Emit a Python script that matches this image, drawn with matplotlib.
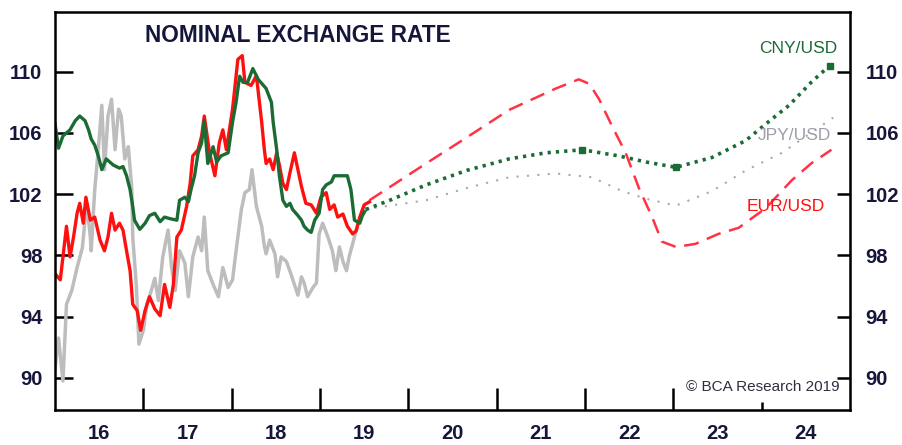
import matplotlib
matplotlib.use("Agg")
import matplotlib.pyplot as plt

plt.rcParams['font.family'] = ['Liberation Sans', 'DejaVu Sans']

# --------------------------------------------------------- data
# history, CNY/USD (green)
cny_years = [2016.00, 2016.04, 2016.09, 2016.17, 2016.23, 2016.28, 2016.34, 2016.38, 2016.41, 2016.45,
             2016.49, 2016.53, 2016.58, 2016.66, 2016.73, 2016.77, 2016.81, 2016.85, 2016.88, 2016.90,
             2016.96, 2017.02, 2017.07, 2017.13, 2017.19, 2017.24, 2017.30, 2017.38, 2017.41, 2017.47,
             2017.51, 2017.54, 2017.58, 2017.62, 2017.66, 2017.69, 2017.73, 2017.79, 2017.83, 2017.88,
             2017.96, 2018.01, 2018.05, 2018.09, 2018.13, 2018.18, 2018.24, 2018.30, 2018.39, 2018.45,
             2018.47, 2018.51, 2018.54, 2018.58, 2018.62, 2018.66, 2018.69, 2018.75, 2018.79, 2018.82,
             2018.86, 2018.90, 2018.94, 2018.99, 2019.03, 2019.07, 2019.13, 2019.16, 2019.24, 2019.31,
             2019.35, 2019.39, 2019.45, 2019.48, 2019.52]
cny_vals = [106.6, 105.0, 105.8, 106.2, 106.8, 107.1, 106.8, 106.2, 105.6, 105.2,
            104.5, 103.6, 104.3, 103.9, 103.7, 103.8, 103.2, 102.3, 101.2, 100.3,
            99.7, 100.1, 100.6, 100.75, 100.2, 100.5, 100.4, 100.3, 101.6, 101.8,
            101.5, 102.3, 103.2, 104.7, 105.35, 106.8, 104.0, 105.1, 104.1, 104.5,
            104.7, 106.7, 108.0, 109.7, 109.3, 109.3, 110.2, 109.5, 108.9, 108.0,
            106.7, 104.9, 103.2, 101.6, 101.2, 101.4, 101.0, 100.6, 100.3, 99.9,
            99.65, 99.5, 100.3, 100.75, 102.3, 102.6, 102.8, 103.2, 103.2, 103.2,
            102.3, 100.3, 100.1, 100.6, 101.0]

# history, EUR/USD (red)
eur_years = [2016.00, 2016.06, 2016.09, 2016.13, 2016.17, 2016.21, 2016.25, 2016.28, 2016.32, 2016.35,
             2016.40, 2016.45, 2016.51, 2016.56, 2016.60, 2016.64, 2016.68, 2016.73, 2016.77, 2016.81,
             2016.85, 2016.88, 2016.93, 2016.97, 2017.02, 2017.07, 2017.13, 2017.19, 2017.24, 2017.30,
             2017.34, 2017.38, 2017.43, 2017.49, 2017.53, 2017.56, 2017.62, 2017.66, 2017.69, 2017.75,
             2017.81, 2017.86, 2017.90, 2017.94, 2018.01, 2018.07, 2018.12, 2018.15, 2018.22, 2018.28,
             2018.34, 2018.37, 2018.39, 2018.43, 2018.47, 2018.51, 2018.54, 2018.58, 2018.62, 2018.66,
             2018.71, 2018.75, 2018.79, 2018.84, 2018.90, 2018.96, 2019.01, 2019.07, 2019.11, 2019.16,
             2019.20, 2019.26, 2019.31, 2019.37, 2019.41, 2019.45, 2019.50, 2019.56]
eur_vals = [96.8, 96.4, 97.9, 99.9, 97.9, 99.2, 100.75, 101.4, 100.1, 101.8,
            100.3, 100.5, 99.0, 98.3, 99.2, 100.75, 99.65, 100.1, 99.65, 98.3,
            97.0, 94.8, 94.4, 93.1, 94.4, 95.3, 94.5, 94.06, 96.1, 94.6,
            96.1, 99.2, 99.65, 101.2, 102.7, 104.5, 104.9, 105.8, 107.1, 104.7,
            103.2, 105.35, 106.2, 104.9, 107.55, 110.8, 111.05, 109.3, 109.1, 109.74,
            106.7, 104.9, 104.0, 104.3, 103.6, 104.7, 103.9, 102.7, 102.3, 103.4,
            104.7, 103.6, 102.5, 101.4, 101.3, 100.75, 101.8, 102.1, 101.0, 101.3,
            100.5, 100.7, 99.9, 99.4, 99.6, 100.5, 101.3, 101.5]

# history, JPY/USD (grey)
jpy_years = [2016.00, 2016.04, 2016.09, 2016.13, 2016.19, 2016.25, 2016.31, 2016.34, 2016.36, 2016.40,
             2016.41, 2016.45, 2016.49, 2016.53, 2016.56, 2016.60, 2016.64, 2016.68, 2016.72, 2016.75,
             2016.79, 2016.83, 2016.87, 2016.88, 2016.92, 2016.95, 2017.00, 2017.04, 2017.09, 2017.13,
             2017.17, 2017.22, 2017.28, 2017.32, 2017.36, 2017.41, 2017.47, 2017.51, 2017.56, 2017.62,
             2017.66, 2017.69, 2017.73, 2017.79, 2017.85, 2017.90, 2017.96, 2018.01, 2018.05, 2018.11,
             2018.15, 2018.20, 2018.23, 2018.28, 2018.34, 2018.37, 2018.39, 2018.43, 2018.49, 2018.52,
             2018.56, 2018.62, 2018.67, 2018.75, 2018.79, 2018.82, 2018.86, 2018.92, 2018.96, 2018.99,
             2019.03, 2019.09, 2019.14, 2019.18, 2019.22, 2019.26, 2019.30, 2019.33, 2019.39, 2019.43,
             2019.50]
jpy_vals = [90.6, 92.6, 89.8, 94.8, 95.7, 97.2, 98.5, 100.3, 101.4, 99.2,
            98.3, 102.3, 104.9, 107.8, 103.6, 107.1, 108.2, 104.9, 107.55, 107.1,
            104.3, 105.1, 102.3, 99.2, 96.1, 92.2, 93.1, 94.8, 95.7, 96.5,
            95.05, 97.9, 99.65, 97.2, 95.7, 98.3, 97.5, 95.3, 97.9, 99.2,
            98.3, 100.5, 97.0, 96.1, 95.3, 97.2, 95.9, 96.4, 98.3, 101.0,
            102.1, 102.3, 103.6, 101.2, 99.9, 98.6, 98.1, 99.0, 98.1, 96.6,
            97.9, 97.6, 96.8, 95.4, 96.6, 96.2, 95.3, 95.9, 96.2, 99.4,
            100.1, 99.2, 98.3, 97.0, 98.55, 97.6, 97.0, 97.9, 99.2, 100.1,
            101.0]

# projections
eur_fc_years = [2019.56, 2020.20, 2020.66, 2021.14, 2021.67, 2021.93, 2022.05, 2022.16, 2022.31, 2022.46,
                2022.61, 2022.76, 2022.87, 2023.03, 2023.25, 2023.51, 2023.74, 2024.05, 2024.34, 2024.56,
                2024.79]
eur_fc_vals = [101.6, 104.0, 105.7, 107.5, 108.9, 109.5, 109.2, 108.2, 106.4, 104.7,
               102.4, 100.5, 98.9, 98.55, 98.75, 99.4, 99.8, 101.1, 102.9, 104.0,
               104.9]

cny_fc_years = [2019.52, 2019.79, 2020.20, 2020.66, 2021.14, 2021.56, 2021.97, 2022.38, 2022.69, 2023.03,
                2023.44, 2023.82, 2024.05, 2024.31, 2024.56, 2024.77]
cny_fc_vals = [101.0, 101.6, 102.6, 103.55, 104.3, 104.7, 104.9, 104.5, 104.1, 103.75,
               104.4, 105.5, 106.6, 107.8, 109.3, 110.4]
cny_knot_years = [2021.97, 2023.03, 2024.77]
cny_knot_vals = [104.9, 103.75, 110.4]

jpy_fc_years = [2019.50, 2020.20, 2020.66, 2021.14, 2021.67, 2022.08, 2022.42, 2022.69, 2023.03, 2023.44,
                2023.82, 2024.23, 2024.81]
jpy_fc_vals = [101.0, 101.6, 102.4, 103.1, 103.35, 103.1, 102.2, 101.7, 101.25, 102.2,
               103.55, 104.7, 107.0]

year_bounds = [2017, 2018, 2019, 2020, 2021, 2022, 2023]
year_mids = [2016.5, 2017.5, 2018.5, 2019.5, 2020.5, 2021.5, 2022.5, 2023.5, 2024.5]
year_labels = ['16', '17', '18', '19', '20', '21', '22', '23', '24']
y_ticks = [90, 94, 98, 102, 106, 110]

# --------------------------------------------------------- plot
RED = '#ff1010'
GREEN = '#1b6b35'
GREY = '#bdbdbd'
INK = '#15163a'

fig = plt.figure(figsize=(9.03, 4.45), dpi=100)
ax = fig.add_axes([0.0609, 0.0787, 0.8804, 0.8944])

ax.plot(jpy_years, jpy_vals, color=GREY, lw=2.5)
ax.plot(eur_years, eur_vals, color=RED, lw=2.4)
ax.plot(cny_years, cny_vals, color=GREEN, lw=2.4)

ax.plot(jpy_fc_years, jpy_fc_vals, color='#a9a9a9', lw=1.5, dashes=(1, 4))
ax.plot(eur_fc_years, eur_fc_vals, color='#ff3345', lw=1.8, dashes=(6, 3.5))
ax.plot(cny_fc_years, cny_fc_vals, color=GREEN, lw=2.6, dashes=(0.9, 1.4))
ax.plot(cny_knot_years, cny_knot_vals, 's', color=GREEN, ms=5)

ax.set_xlim(2016, 2025)
ax.set_ylim(87.9, 113.9)

for s in ax.spines.values():
    s.set_linewidth(1.8)

# x axis: long ticks at year boundaries, labels centred in the years
ax.set_xticks(year_bounds)
ax.set_xticklabels([])
ax.set_xticks(year_mids, minor=True)
ax.set_xticklabels(year_labels, minor=True)
ax.tick_params(axis='x', which='major', direction='in', length=16, width=1.8)
ax.tick_params(axis='x', which='minor', length=0, pad=10, labelsize=14.5, labelcolor=INK)
for t in ax.get_xticklabels(minor=True):
    t.set_fontweight('bold')

sec_x = ax.secondary_xaxis('bottom')
sec_x.set_xticks([2024])
sec_x.set_xticklabels([''])
sec_x.tick_params(direction='in', length=6, width=1.8)

# y axes both sides
ax.set_yticks(y_ticks)
ax.set_yticklabels([str(v) for v in y_ticks], fontweight='bold')
ax.tick_params(axis='y', direction='in', length=13, width=1.8, pad=9, labelsize=14.5, labelcolor=INK)

sec_y = ax.secondary_yaxis('right')
sec_y.set_yticks(y_ticks)
sec_y.set_yticklabels([str(v) for v in y_ticks], fontweight='bold')
sec_y.tick_params(direction='in', length=9.5, width=1.8, pad=11, labelsize=14.5, labelcolor=INK)

# text
ax.text(0.113, 0.942, 'NOMINAL EXCHANGE RATE', transform=ax.transAxes, fontsize=16.3,
        fontweight='bold', color=INK, ha='left', va='center')

ax.text(2024.86, 111.5, 'CNY/USD', fontsize=12.5, color=GREEN, ha='right', va='center')
ax.text(2024.79, 105.8, 'JPY/USD', fontsize=12.5, color='#9d9dab', ha='right', va='center')
ax.text(2024.72, 101.2, 'EUR/USD', fontsize=12.5, color=RED, ha='right', va='center')

ax.text(0.987, 0.058, '\u00a9 BCA Research 2019', transform=ax.transAxes, fontsize=11,
        color='#2e2e40', ha='right', va='center')

fig.savefig('out.png', dpi=100)
